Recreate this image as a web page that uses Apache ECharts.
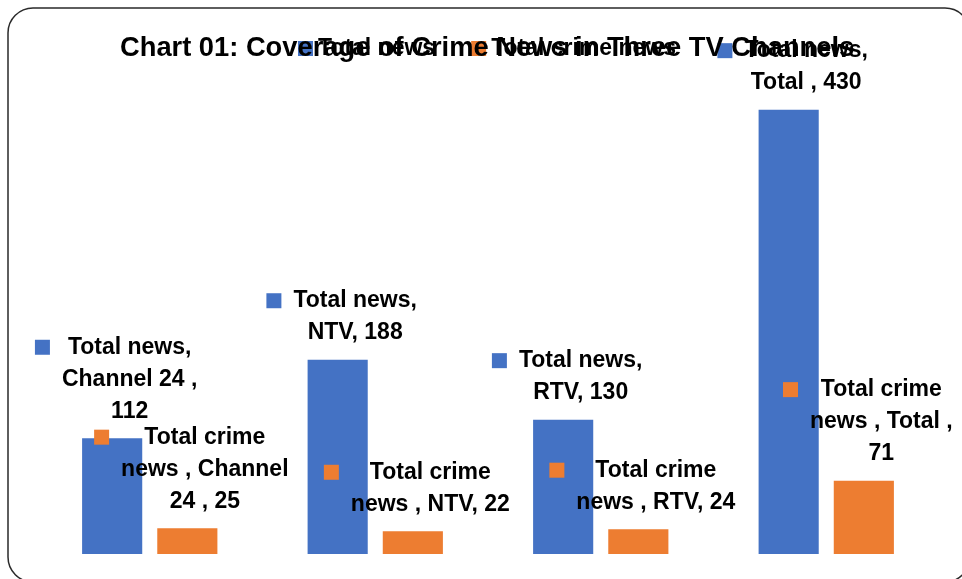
<!DOCTYPE html>
<html><head><meta charset="utf-8">
<script src="https://cdn.jsdelivr.net/npm/echarts@6/dist/echarts.min.js"></script>
<style>html,body{margin:0;padding:0;background:#fff;overflow:hidden}#c{width:962px;height:579px}</style>
</head><body><div id="c"></div>
<script>
const categories = ['Channel 24 ', 'NTV', 'RTV', 'Total '];
const seriesNames = ['Total news', 'Total crime news '];
const totalNews = [112, 188, 130, 430];
const crimeNews = [25, 22, 24, 71];
const colors = ['#4472C4', '#ED7D31'];
const FONT = '"Liberation Sans", Arial, sans-serif';
const LABEL_SIZE = 23;
const WRAP = 172;

const ctx = document.createElement('canvas').getContext('2d');
ctx.font = 'bold ' + LABEL_SIZE + 'px ' + FONT;
function wrap(text, maxW) {
  const words = text.split(' ');
  const lines = [];
  let cur = '';
  words.forEach(w => {
    const trial = cur ? cur + ' ' + w : w;
    if (cur && ctx.measureText(trial).width > maxW) { lines.push(cur); cur = w; }
    else cur = trial;
  });
  if (cur) lines.push(cur);
  return lines;
}
function fmt(p) {
  const lines = wrap(p.seriesName + ', ' + p.name + ', ' + p.value, WRAP);
  return lines.map((l, i) => (i === 0 ? '{sq| }{gap| }' : '{pad| }') + '{t|' + l + '}').join('\n');
}
function labelFor(color) {
  return {
    show: true, position: 'top', distance: 11, offset: [4, 0],
    formatter: fmt, color: '#000',
    rich: {
      sq: {width: 15, height: 15, backgroundColor: color, fontSize: 10, align: 'left'},
      gap: {width: 12, fontSize: 10, align: 'left'},
      pad: {width: 27, fontSize: 10, align: 'left'},
      t: {align: 'center', fontSize: LABEL_SIZE, fontWeight: 'bold', fontFamily: FONT, color: '#000', lineHeight: 32}
    }
  };
}
const chart = echarts.init(document.getElementById('c'), null, {renderer: 'canvas'});
chart.setOption({
  backgroundColor: '#fff',
  animation: false,
  title: {
    text: 'Chart 01: Coverage of Crime News in Three TV Channels',
    left: 120, top: 35, padding: 0,
    textStyle: {fontSize: 27.3, fontWeight: 'bold', fontFamily: FONT, color: '#000'}
  },
  legend: {
    data: seriesNames, left: 298, top: 37, padding: 0,
    itemWidth: 15, itemHeight: 15, itemGap: 36, icon: 'rect',
    textStyle: {fontSize: LABEL_SIZE, fontWeight: 'bold', fontFamily: FONT, color: '#000'}
  },
  grid: {left: 37, right: 23, top: 89, bottom: 25, containLabel: false},
  xAxis: {type: 'category', data: categories, show: false},
  yAxis: {type: 'value', min: 0, max: 450, show: false},
  graphic: [{
    type: 'rect', silent: true,
    shape: {x: 8, y: 8, width: 962, height: 574, r: 25},
    style: {fill: 'none', stroke: '#2a2a2a', lineWidth: 1.5}
  }],
  series: [
    {name: seriesNames[0], type: 'bar', data: totalNews, barCategoryGap: '40%', barGap: '25%',
     itemStyle: {color: colors[0]}, label: labelFor(colors[0])},
    {name: seriesNames[1], type: 'bar', data: crimeNews, barCategoryGap: '40%', barGap: '25%',
     itemStyle: {color: colors[1]}, label: labelFor(colors[1])}
  ]
});
</script></body></html>
